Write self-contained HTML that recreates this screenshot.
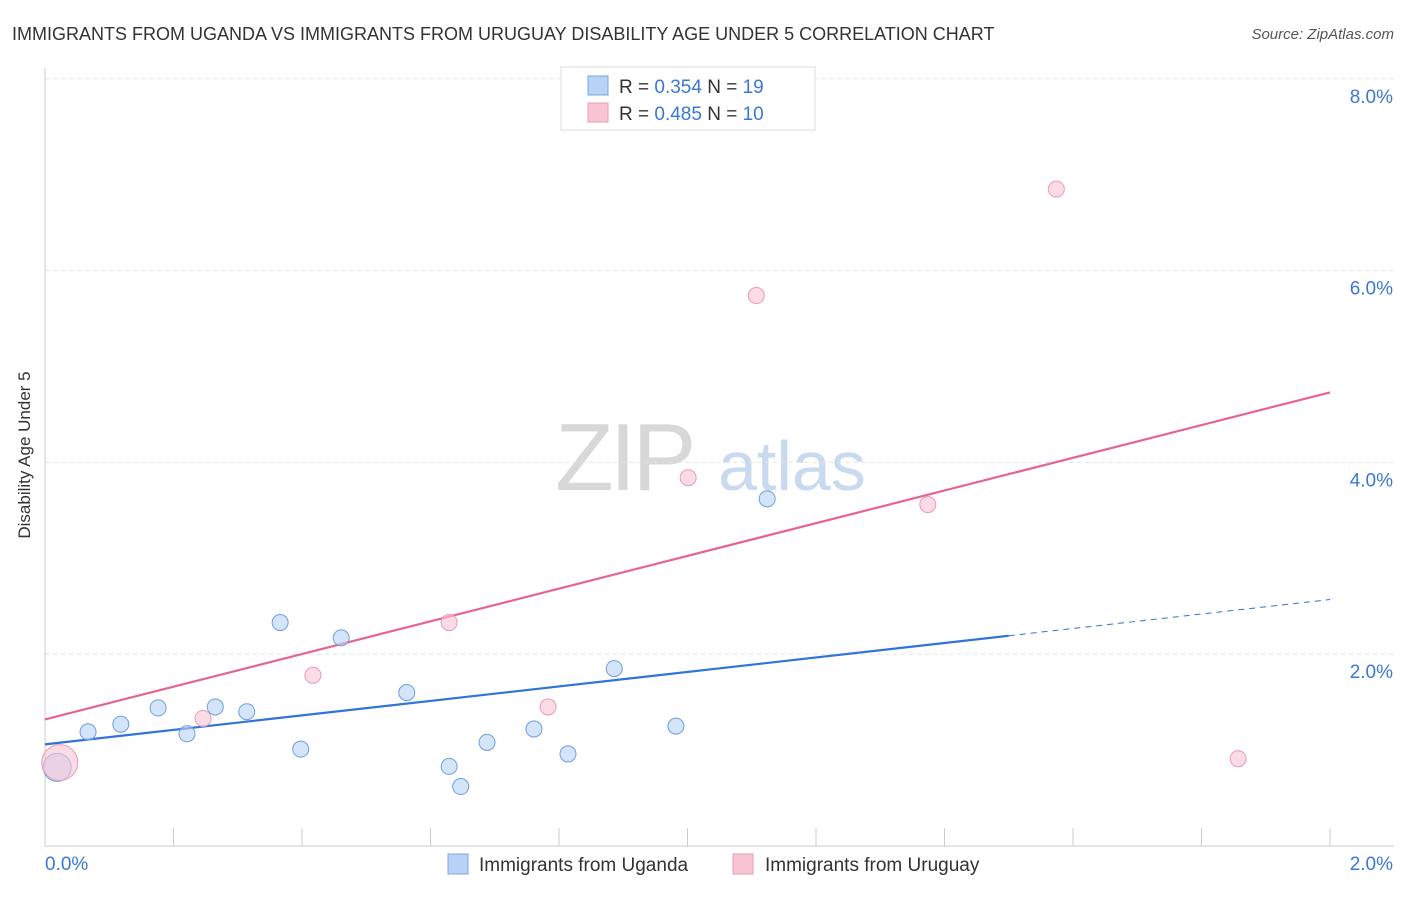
<!DOCTYPE html>
<html><head><meta charset="utf-8"><style>
body{margin:0;background:#fff;font-family:"Liberation Sans",sans-serif;}
svg text{font-family:"Liberation Sans",sans-serif;}
</style></head><body>
<svg id="chart" width="1406" height="892">
<text x="12" y="40" font-size="18" fill="#333">IMMIGRANTS FROM UGANDA VS IMMIGRANTS FROM URUGUAY DISABILITY AGE UNDER 5 CORRELATION CHART</text>
<text x="1394" y="39" font-size="15" fill="#555" font-style="italic" text-anchor="end">Source: ZipAtlas.com</text>
<text x="30" y="455" font-size="17" fill="#333" text-anchor="middle" transform="rotate(-90 30 455)">Disability Age Under 5</text>
<g><text x="555" y="490" font-size="96" fill="#d8d8d8" font-family="Liberation Serif" letter-spacing="-4">ZIP</text><text x="718" y="490" font-size="70" fill="#c9daf0">atlas</text></g>
<g id="grid"></g><g id="axes"></g><g id="lines"></g><g id="pts"></g>
<g>
<rect x="561" y="67" width="254" height="63" fill="#fff" stroke="#ddd"/>
<rect x="588" y="76" width="20" height="19" fill="#b8d3f5" stroke="#7aa6e0"/>
<rect x="588" y="103" width="20" height="19" fill="#f9c5d5" stroke="#eb9ab3"/>
<text x="619" y="93" font-size="19" fill="#333">R = <tspan fill="#3a78d8">0.354</tspan>   N = <tspan fill="#3a78d8">19</tspan></text>
<text x="619" y="120" font-size="19" fill="#333">R = <tspan fill="#3a78d8">0.485</tspan>   N = <tspan fill="#3a78d8">10</tspan></text>
</g>
<g>
<rect x="448" y="854" width="20" height="20" fill="#b8d3f5" stroke="#7aa6e0"/>
<text x="479" y="871" font-size="19" fill="#333">Immigrants from Uganda</text>
<rect x="733" y="854" width="20" height="20" fill="#f9c5d5" stroke="#eb9ab3"/>
<text x="765" y="871" font-size="19" fill="#333">Immigrants from Uruguay</text>
</g>
</svg>
<script>
const blueX=[0.019,0.067,0.118,0.176,0.221,0.265,0.314,0.366,0.398,0.461,0.563,0.629,0.647,0.688,0.761,0.814,0.886,0.982,1.124];
const blueY=[0.82,1.19,1.27,1.44,1.17,1.45,1.40,2.33,1.01,2.17,1.60,0.83,0.62,1.08,1.22,0.96,1.85,1.25,3.62];
const pinkX=[0.023,0.246,0.417,0.629,0.783,1.001,1.107,1.374,1.574,1.857];
const pinkY=[0.87,1.33,1.78,2.33,1.45,3.84,5.74,3.56,6.85,0.91];
const yTicks=[2,4,6,8];
const yTickLabels=["2.0%","4.0%","6.0%","8.0%"];
const blueFit=[1.06,2.57];
const pinkFit=[1.32,4.73];
const blueSolidEnd=1.5;
const X=v=>45+v/2*1285;
const Y=v=>846-v*95.9;
const NS="http://www.w3.org/2000/svg";
function mk(p,t,a){const e=document.createElementNS(NS,t);for(const k in a)e.setAttribute(k,a[k]);p.appendChild(e);return e;}
const grid=document.getElementById('grid'),axes=document.getElementById('axes'),lines=document.getElementById('lines'),pts=document.getElementById('pts');
yTicks.forEach((t,i)=>{
 const l=mk(grid,'line',{x1:45,x2:1394,y1:Y(t),y2:Y(t),stroke:'#e4e4e4','stroke-dasharray':'4,4'});
 
 
 const tx=mk(axes,'text',{x:1393,y:Y(t)+24,'font-size':19,fill:'#3a78d8','text-anchor':'end'});tx.textContent=yTickLabels[i];
 
 
});
const al=mk(axes,'line',{x1:45,x2:45,y1:68,y2:846,stroke:'#ccc'});


const bl=mk(axes,'line',{x1:45,x2:1394,y1:846,y2:846,stroke:'#ccc'});


for(let i=1;i<=10;i++){const t=mk(axes,'line',{x1:X(i*0.2),x2:X(i*0.2),y1:828,y2:846,stroke:'#ccc'});
 
 }
const x0=mk(axes,'text',{x:45,y:870,'font-size':19,fill:'#3a78d8'});x0.textContent='0.0%';


const x1=mk(axes,'text',{x:1393,y:870,'font-size':19,fill:'#3a78d8','text-anchor':'end'});x1.textContent='2.0%';


const by=v=>blueFit[0]+(blueFit[1]-blueFit[0])*v/2;
const b1=mk(lines,'line',{x1:X(0),y1:Y(by(0)),x2:X(blueSolidEnd),y2:Y(by(blueSolidEnd)),stroke:'#2f74d8','stroke-width':2.2});


const b2=mk(lines,'line',{x1:X(blueSolidEnd),y1:Y(by(blueSolidEnd)),x2:X(2),y2:Y(by(2)),stroke:'#2f74d8','stroke-width':1,'stroke-dasharray':'6,5'});


const p1=mk(lines,'line',{x1:X(0),y1:Y(pinkFit[0]),x2:X(2),y2:Y(pinkFit[1]),stroke:'#e8648c','stroke-width':2.2});


blueX.forEach((x,i)=>{const c=mk(pts,'circle',{cx:X(x),cy:Y(blueY[i]),r:i==0?14:8,fill:'rgba(184,211,245,0.6)',stroke:'#6b9ee0','stroke-width':1});
 
 });
pinkX.forEach((x,i)=>{const c=mk(pts,'circle',{cx:X(x),cy:Y(pinkY[i]),r:i==0?18:8,fill:'rgba(249,197,213,0.6)',stroke:'#eb9ab3','stroke-width':1});
 
 });
</script>
</body></html>
